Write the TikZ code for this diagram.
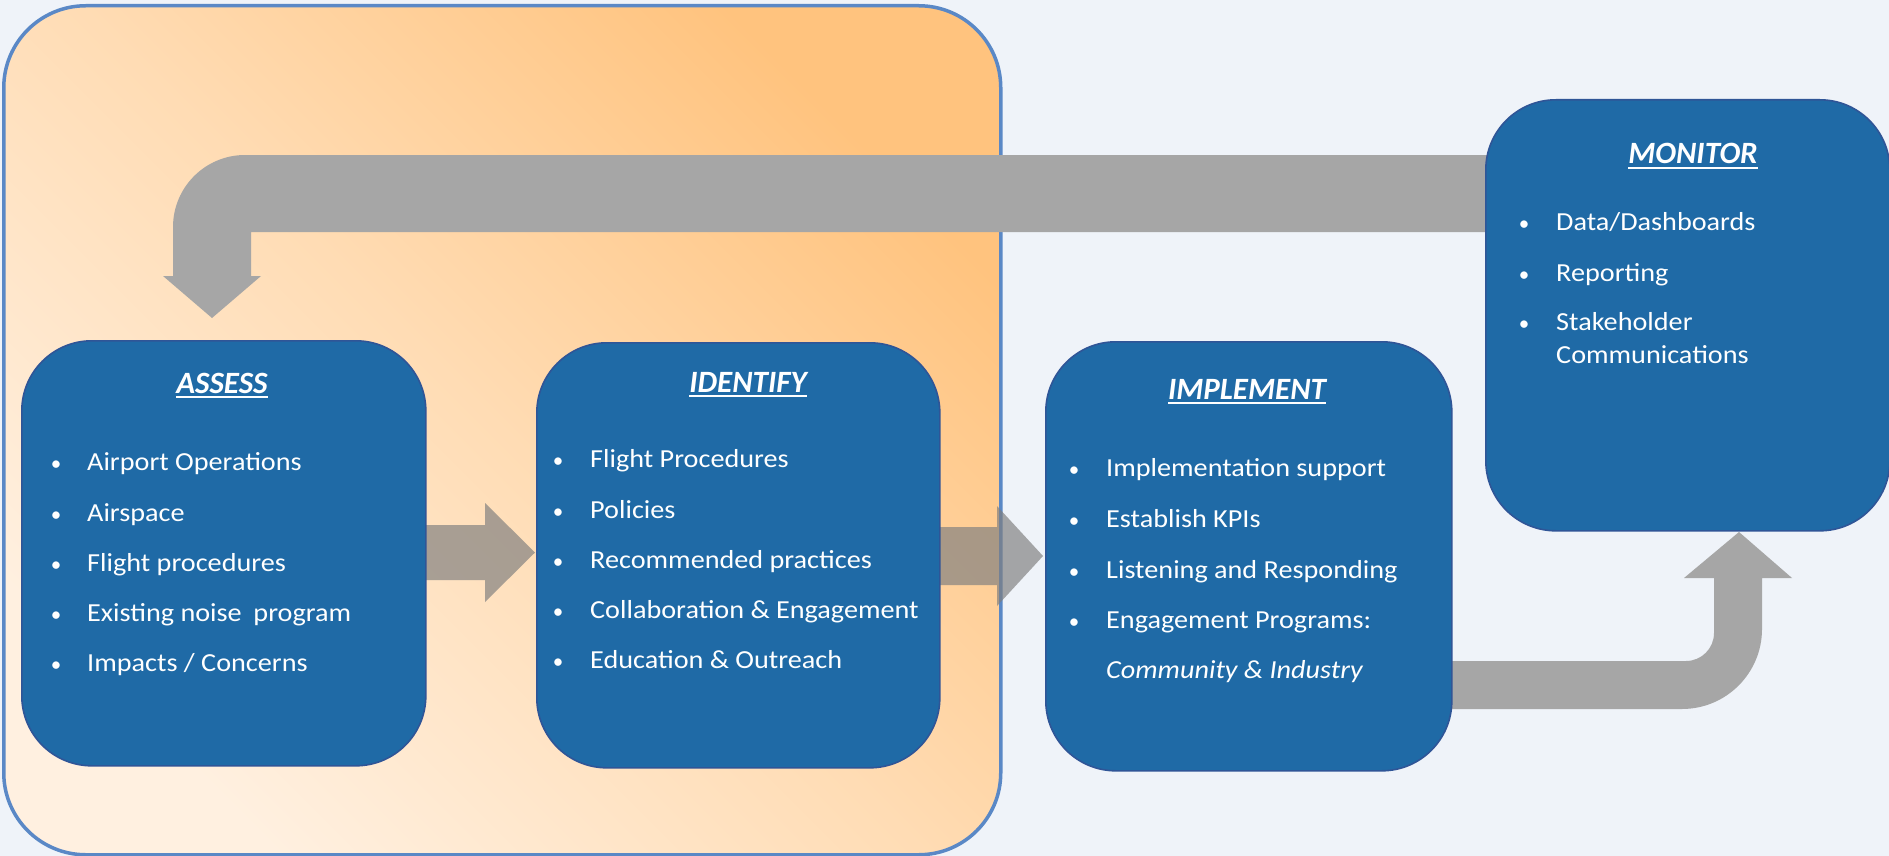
\documentclass[tikz,border=0pt]{standalone}
\usepackage{fontspec}
\setmainfont{Carlito}
\newfontfamily\itemfont{Carlito}[FakeStretch=1.085]
\usetikzlibrary{calc}
\definecolor{bgc}{HTML}{EFF3F9}
\definecolor{boxfill}{HTML}{1F6AA6}
\definecolor{boxline}{HTML}{2F5597}
\definecolor{framec}{HTML}{5A88C6}
\definecolor{orlight}{HTML}{FFF0E0}
\definecolor{ormid}{HTML}{FFDCB4}
\definecolor{ordark}{HTML}{FFC37E}
\definecolor{arrowgray}{HTML}{A6A6A6}
\definecolor{midgray}{HTML}{7F7F7F}
\newcommand\myul[1]{\setbox0=\hbox{#1}\rlap{\rule[-4.5pt]{\wd0}{1.8pt}}\box0}
\begin{document}
\begin{tikzpicture}[x=1pt,y=-1pt,
  stagebox/.style={draw=boxline, line width=1.6pt, fill=boxfill, rounded corners=70pt, rectangle, inner sep=0pt, anchor=north west},
  titletext/.style={text=white, anchor=base, inner sep=0pt, font=\fontsize{31}{37}\selectfont\bfseries\itshape},
  itemtext/.style={text=white, anchor=base west, inner sep=0pt, font=\itemfont\fontsize{26}{31}\selectfont},
  bulletdot/.style={text=white, anchor=base, inner sep=0pt, font=\fontsize{21}{25}\selectfont},
  bigarrow/.style={fill=arrowgray},
  midarrow/.style={fill=midgray, fill opacity=0.68}
  ]
\useasboundingbox (0,0) rectangle (1889,856);
\fill[bgc] (0,0) rectangle (1889,856);

% orange panel
\node[draw=framec, line width=3.5pt, rounded corners=82pt, minimum width=997pt, minimum height=849pt,
  anchor=north west, inner sep=0pt, top color=ordark, bottom color=orlight, middle color=ormid, shading angle=-45] (panel) at (2,4) {};

% feedback arrow (monitor -> assess)
\coordinate (fbstart) at (1495,155);
\coordinate (fbend) at (1495,232);
\path[bigarrow] (fbstart) [rounded corners=72pt] -- (173,155) [sharp corners] -- (173,276) -- (163,276)
  -- (212,318) coordinate (fbtip) -- (261,276) -- (251,276) -- (251,232) -- (fbend) -- cycle;

% implement -> monitor arrow
\coordinate (imstart) at (1440,661);
\coordinate (imend) at (1440,709);
\path[bigarrow] (imstart) [rounded corners=28pt] -- (1714,661) [sharp corners] -- (1714,578) -- (1684,578)
  -- (1739,532) coordinate (imtip) -- (1792,578) -- (1762,578) [rounded corners=80pt] -- (1762,709) [sharp corners] -- (imend) -- cycle;

% middle arrows
\path[midarrow] (425,525) -- (485,525) -- (485,503) -- (535,552.5) -- (485,602) -- (485,580) -- (425,580) -- cycle;
\path[midarrow] (939,527) -- (997,527) -- (997,506) -- (1043,556) -- (997,606) -- (997,585) -- (939,585) -- cycle;

% boxes
\node[stagebox, minimum width=404pt, minimum height=425pt] (assess) at (21,340) {};
\node[stagebox, minimum width=403pt, minimum height=425pt] (identify) at (536,342) {};
\node[stagebox, minimum width=406pt, minimum height=429pt] (implement) at (1045,341) {};
\node[stagebox, minimum width=404pt, minimum height=431pt] (monitor) at (1485,99) {};

% ASSESS
\node[titletext] (assesst) at (222,393) {\myul{ASSESS}};
\node[bulletdot] (ab1) at (56,470) {•};
\node[itemtext] (a1) at (87,470) {Airport Operations};
\node[bulletdot] (ab2) at (56,521) {•};
\node[itemtext] (a2) at (87,521) {Airspace};
\node[bulletdot] (ab3) at (56,571) {•};
\node[itemtext] (a3) at (87,571) {Flight procedures};
\node[bulletdot] (ab4) at (56,621) {•};
\node[itemtext] (a4) at (87,621) {Existing noise\hspace{0.45em}program};
\node[bulletdot] (ab5) at (56,671) {•};
\node[itemtext] (a5) at (87,671) {Impacts / Concerns};

% IDENTIFY
\node[titletext] (identifyt) at (748,392) {\myul{IDENTIFY}};
\node[bulletdot] (ib1) at (558,467) {•};
\node[itemtext] (i1) at (590,467) {Flight Procedures};
\node[bulletdot] (ib2) at (558,518) {•};
\node[itemtext] (i2) at (590,518) {Policies};
\node[bulletdot] (ib3) at (558,568) {•};
\node[itemtext] (i3) at (590,568) {Recommended practices};
\node[bulletdot] (ib4) at (558,618) {•};
\node[itemtext] (i4) at (590,618) {Collaboration \& Engagement};
\node[bulletdot] (ib5) at (558,668) {•};
\node[itemtext] (i5) at (590,668) {Education \& Outreach};

% IMPLEMENT
\node[titletext] (implementt) at (1247,399) {\myul{IMPLEMENT}};
\node[bulletdot] (pb1) at (1074,476) {•};
\node[itemtext] (p1) at (1106,476) {Implementation support};
\node[bulletdot] (pb2) at (1074,527) {•};
\node[itemtext] (p2) at (1106,527) {Establish KPIs};
\node[bulletdot] (pb3) at (1074,578) {•};
\node[itemtext] (p3) at (1106,578) {Listening and Responding};
\node[bulletdot] (pb4) at (1074,628) {•};
\node[itemtext] (p4) at (1106,628) {Engagement Programs:};
\node[itemtext] (p5) at (1106,678) {\itshape Community \& Industry};

% MONITOR
\node[titletext] (monitort) at (1693,164) {\myul{MONITOR}};
\node[bulletdot] (mb1) at (1524,230) {•};
\node[itemtext] (m1) at (1556,230) {Data/Dashboards};
\node[bulletdot] (mb2) at (1524,281) {•};
\node[itemtext] (m2) at (1556,281) {Reporting};
\node[bulletdot] (mb3) at (1524,330) {•};
\node[itemtext] (m3) at (1556,330) {Stakeholder};
\node[itemtext] (m4) at (1556,363) {Communications};
\end{tikzpicture}
\end{document}
